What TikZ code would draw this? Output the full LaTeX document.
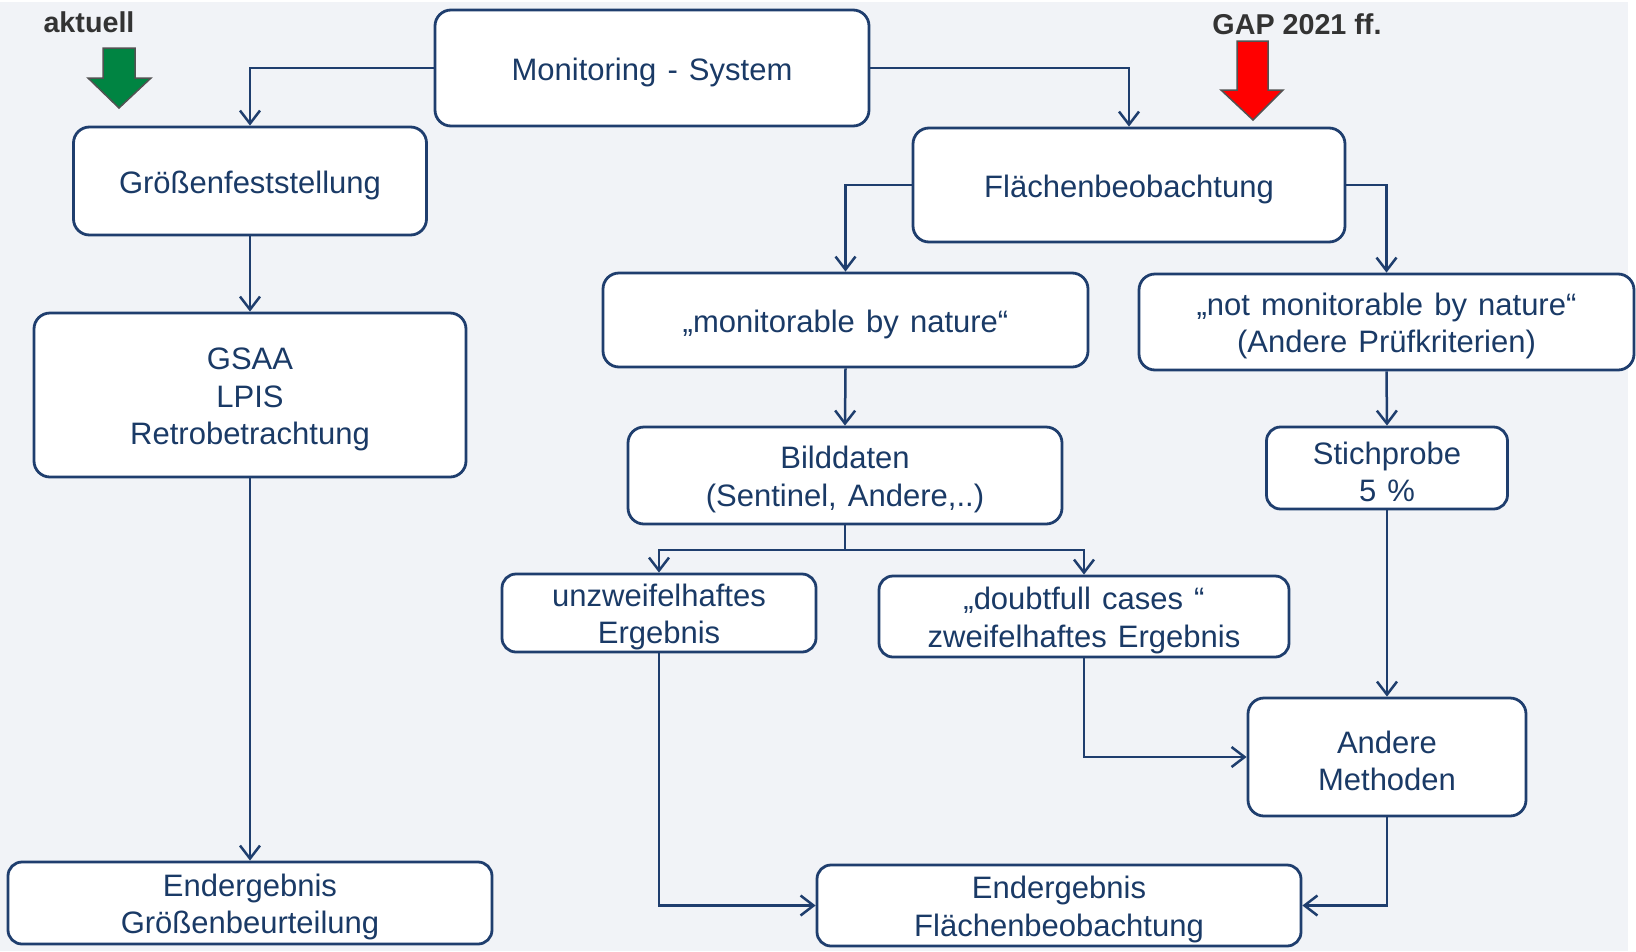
\documentclass[tikz,border=0pt]{standalone}
\usepackage{fontspec}
\setmainfont{Liberation Sans}
\usetikzlibrary{arrows.meta}
\definecolor{bg}{HTML}{F1F3F7}
\definecolor{navy}{HTML}{1F3E6E}
\definecolor{txt}{HTML}{1A3A66}
\definecolor{fatgreen}{HTML}{008442}
\definecolor{fatred}{HTML}{FF0000}
\definecolor{labgrey}{HTML}{333333}
\newcommand\myboxfont{\fontsize{31}{37.6}\selectfont\spaceskip=0.36em plus 0.1em minus 0.05em\relax}
\newcommand\ts{\leavevmode\vrule width 0pt height 30.5pt depth 0pt\relax}
\begin{document}
\begin{tikzpicture}[x=1pt,y=-1pt,
  box/.style={draw=navy, line width=2.8pt, fill=white, rounded corners=16pt, text=txt, align=center,
    font=\myboxfont, inner sep=0pt},
  arr/.style={draw=navy, line width=2.5pt, -{Straight Barb[length=13pt,width=20pt,line width=2.5pt]}},
  conn/.style={draw=navy, line width=2.5pt},
  lab/.style={text=labgrey, font=\fontsize{28.7}{34}\selectfont\bfseries},
  fat/.style={draw=labgrey!85, line width=1.5pt, line join=miter}]
\useasboundingbox (0,0) rectangle (1636,951);
\fill[bg] (0,2) rectangle (1628,951);

% boxes
\node[box, minimum width=434pt, minimum height=116pt] (mon) at (652,68) {\ts Monitoring - System};
\node[box, minimum width=353pt, minimum height=108pt] (gros) at (250,181) {\ts Größenfeststellung};
\node[box, minimum width=432pt, minimum height=114pt] (flae) at (1129,185) {\ts Flächenbeobachtung};
\node[box, minimum width=432pt, minimum height=164pt] (gsaa) at (250,395) {\ts GSAA\\LPIS\\Retrobetrachtung};
\node[box, minimum width=485pt, minimum height=94pt] (mbn) at (845.5,320) {\ts„monitorable by nature“};
\node[box, minimum width=495pt, minimum height=96pt] (nmbn) at (1386.5,322) {\ts„not monitorable by nature“\\(Andere Prüfkriterien)};
\node[box, minimum width=434pt, minimum height=97pt] (bild) at (845,475.5) {\ts Bilddaten\\(Sentinel, Andere,..)};
\node[box, minimum width=241pt, minimum height=82pt, rounded corners=14pt] (stich) at (1387,468) {\ts Stichprobe\\5 \%};
\node[box, minimum width=314pt, minimum height=78pt, rounded corners=14pt] (unz) at (659,613) {\ts unzweifelhaftes\\Ergebnis};
\node[box, minimum width=410pt, minimum height=81pt, rounded corners=14pt] (doubt) at (1084,616.5) {\ts„doubtfull cases “\\zweifelhaftes Ergebnis};
\node[box, minimum width=278pt, minimum height=118pt] (and) at (1387,757) {\ts Andere\\Methoden};
\node[box, minimum width=484pt, minimum height=82pt, rounded corners=14pt] (endg) at (250,903) {\ts Endergebnis\\Größenbeurteilung};
\node[box, minimum width=484pt, minimum height=81pt, rounded corners=14pt] (endf) at (1059,905.5) {\ts Endergebnis\\Flächenbeobachtung};

% connectors
\draw[arr] (mon.west) -| (gros.north);
\draw[arr] (mon.east) -| (flae.north);
\draw[arr] (gros.south) -- (gsaa.north);
\draw[arr] (gsaa.south) -- (endg.north);
\draw[arr] (flae.west) -| (mbn.north);
\draw[arr] (flae.east) -| (nmbn.north);
\draw[arr] (mbn.south) -- (bild.north);
\draw[arr] (nmbn.south) -- (stich.north);
\coordinate (j) at (845,550);
\draw[conn] (bild.south) -- (j);
\draw[arr] (j) -| (unz.north);
\draw[arr] (j) -| (doubt.north);
\draw[arr] (stich.south) -- (and.north);
\draw[arr] (doubt.south) |- (and.west);
\draw[arr] (unz.south) |- (endf.west);
\draw[arr] (and.south) |- (endf.east);

% labels and fat arrows
\node[lab] (akt) at (89,22) {aktuell};
\node[lab] (gap) at (1297,24) {GAP 2021 ff.};
\draw[fat, fill=fatgreen] (103,48) -- (135,48) -- (135,78) -- (151,78) -- (119,108) -- (88,78) -- (103,78) -- cycle;
\draw[fat, fill=fatred] (1237,41) -- (1268,41) -- (1268,90) -- (1283,90) -- (1253,120) -- (1221,90) -- (1237,90) -- cycle;
\end{tikzpicture}
\end{document}
